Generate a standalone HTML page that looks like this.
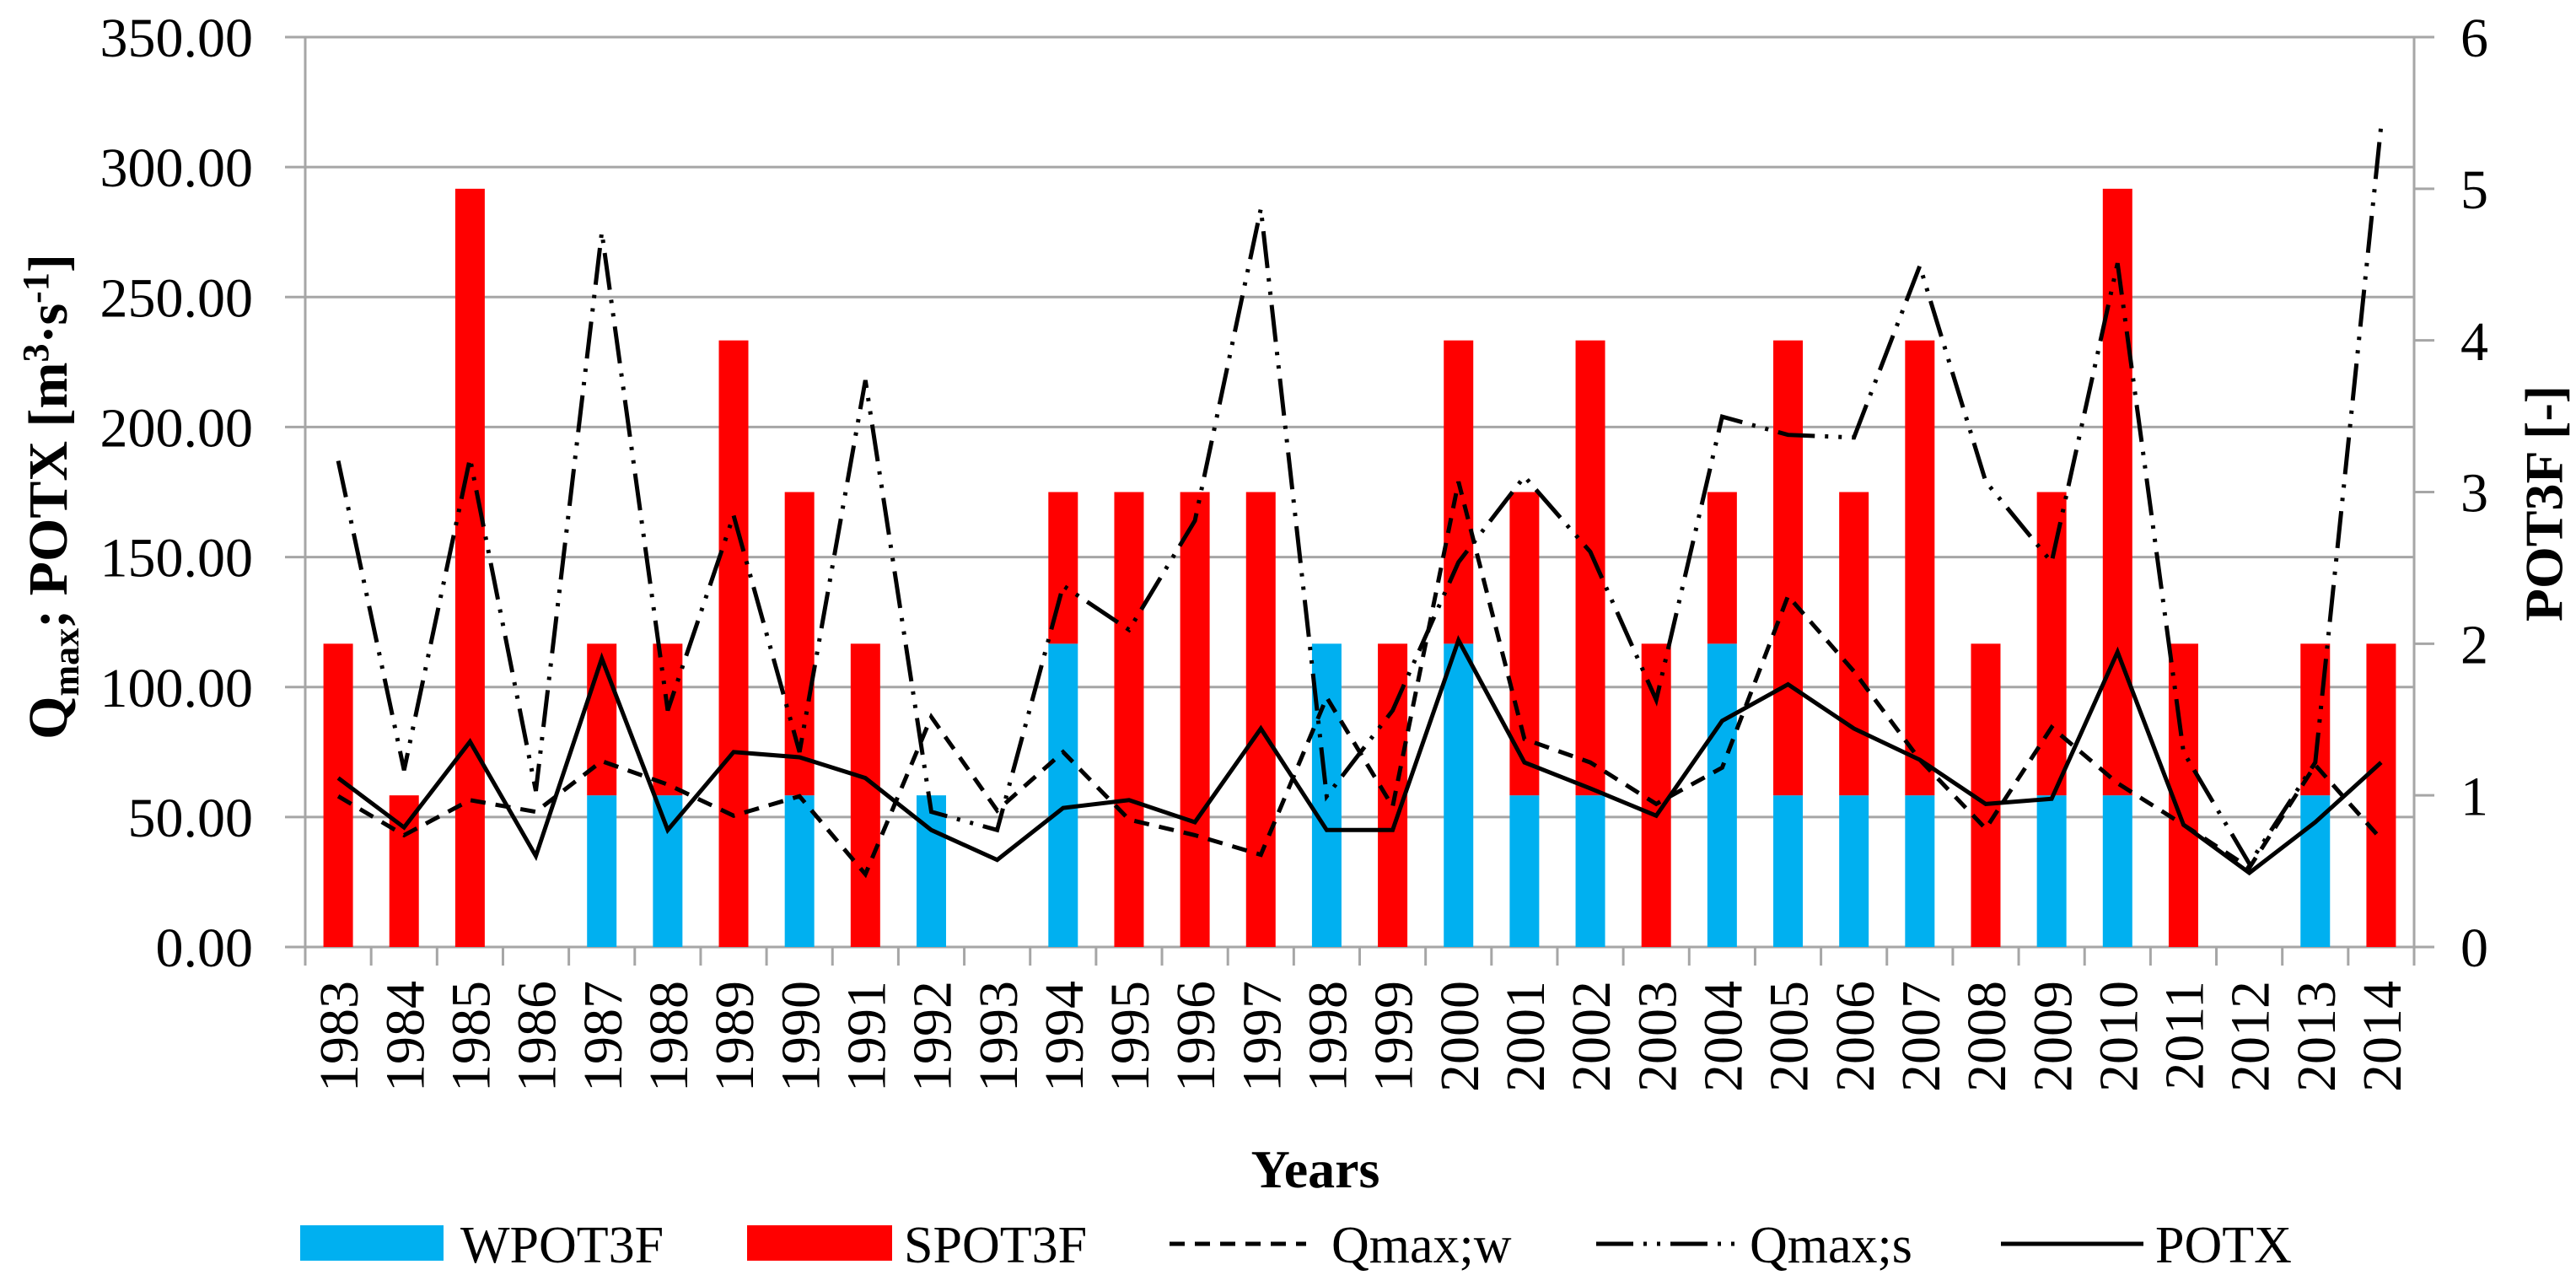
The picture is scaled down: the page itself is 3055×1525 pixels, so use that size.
<!DOCTYPE html>
<html><head><meta charset="utf-8"><style>
html,body{margin:0;padding:0;background:#fff}
svg{display:block}
text{font-family:"Liberation Serif","DejaVu Serif",serif;fill:#000}
</style></head>
<body>
<svg id="chart" width="3055" height="1525" viewBox="0 0 3055 1525" xmlns="http://www.w3.org/2000/svg">
<g id="grid"></g>
<g id="bars"></g>
<g id="lines"></g>
<g id="axes"></g>
<text transform="translate(56,589) rotate(-90)" text-anchor="middle" dy="0.35em" font-size="66" font-weight="bold">Q<tspan font-size="44" dy="14">max</tspan><tspan dy="-14">; POTX [m</tspan><tspan font-size="44" dy="-22">3</tspan><tspan dy="22">·s</tspan><tspan font-size="44" dy="-22">-1</tspan><tspan dy="22">]</tspan></text>
<text transform="translate(3016,597) rotate(-90)" text-anchor="middle" dy="0.35em" font-size="64" font-weight="bold">POT3F [-]</text>
<text x="1560" y="1408" text-anchor="middle" font-size="64" font-weight="bold">Years</text>
<g>
  <rect x="356" y="1453" width="170" height="42" fill="#00B0F0"/>
  <text x="546" y="1497" font-size="62">WPOT3F</text>
  <rect x="886" y="1453" width="172" height="42" fill="#FF0000"/>
  <text x="1072" y="1497" font-size="62">SPOT3F</text>
  <line x1="1387" y1="1475" x2="1549" y2="1475" stroke="#000" stroke-width="5" stroke-dasharray="18 12"/>
  <text x="1579" y="1497" font-size="62">Qmax;w</text>
  <line x1="1893" y1="1475" x2="2065" y2="1475" stroke="#000" stroke-width="5" stroke-dasharray="44 12 4 12 4 12"/>
  <text x="2075" y="1497" font-size="62">Qmax;s</text>
  <line x1="2373" y1="1475" x2="2542" y2="1475" stroke="#000" stroke-width="5"/>
  <text x="2556" y="1497" font-size="62">POTX</text>
</g>
</svg>
<script>
const years = [1983,1984,1985,1986,1987,1988,1989,1990,1991,1992,1993,1994,1995,1996,1997,1998,1999,2000,2001,2002,2003,2004,2005,2006,2007,2008,2009,2010,2011,2012,2013,2014];
const wpot3f = [0,0,0,0,1,1,0,1,0,1,0,2,0,0,0,2,0,2,1,1,0,2,1,1,1,0,1,1,0,0,1,0];
const spot3f = [2,1,5,0,1,1,4,2,2,0,0,1,3,3,3,0,2,2,2,3,2,1,3,2,3,2,2,4,2,0,1,2];
const potx = [65,46,79,35,111,45,75,73,65,45,33.5,53.5,56.5,48,84,45,45,118,71,61,50.5,87,101,84,72,55,57,113.5,47,28.5,48,71];
const qmaxW = [58,43,56.5,52,71.5,62.5,50.5,58,28,88.5,52.5,75,49,43,35.5,96,54,179,80,71,55,69,135,106,72,45.5,84.5,63,47,30.5,70,41.5];
const qmaxS = [187,68,188,60,275,91,166,75,218,52,45,139,122,164,284,58,91,148,181,152,95,204,197,196,262,179,148,263,75,32,71,316];
const leftTicks = ["0.00","50.00","100.00","150.00","200.00","250.00","300.00","350.00"];
const rightTicks = ["0","1","2","3","4","5","6"];

const NS = "http://www.w3.org/2000/svg";
const L = 362, R = 2863, T = 44, B = 1123;
const bw = (R - L) / years.length;
const yL = v => B - v / 350 * (B - T);
const yR = v => B - v / 6 * (B - T);
const xC = i => L + bw * (i + 0.5);
function mk(tag, attrs, parent) {
  const e = document.createElementNS(NS, tag);
  for (const k in attrs) e.setAttribute(k, attrs[k]);
  parent.appendChild(e);
  return e;
}
const grid = document.getElementById('grid');
const axes = document.getElementById('axes');
const bars = document.getElementById('bars');
const lines = document.getElementById('lines');

leftTicks.forEach((t, i) => {
  const v = i * 50, y = yL(v);
  const g = mk('line', {x1: 338, x2: R, y1: y, y2: y, stroke: '#a6a6a6', 'stroke-width': 3}, grid);
  
  
  const tx = mk('text', {x: 300, y: y, dy: '0.35em', 'text-anchor': 'end', 'font-size': 66}, axes);
  tx.textContent = t;
  
  
});
rightTicks.forEach((t, i) => {
  const y = yR(i);
  const tk = mk('line', {x1: R, x2: R + 24, y1: y, y2: y, stroke: '#a6a6a6', 'stroke-width': 3}, axes);
  
  
  const tx = mk('text', {x: 2918, y: y, dy: '0.35em', 'font-size': 66}, axes);
  tx.textContent = t;
  
  
});
const la = mk('line', {x1: L, x2: L, y1: T, y2: B, stroke: '#a6a6a6', 'stroke-width': 3}, axes);


const ra = mk('line', {x1: R, x2: R, y1: T, y2: B, stroke: '#a6a6a6', 'stroke-width': 3}, axes);


for (let i = 0; i <= years.length; i++) {
  const x = L + bw * i;
  const tk = mk('line', {x1: x, x2: x, y1: B, y2: B + 22, stroke: '#a6a6a6', 'stroke-width': 3}, axes);
  
  
}
years.forEach((yr, i) => {
  const tx = mk('text', {transform: `translate(${xC(i)},1163) rotate(-90)`, dy: '0.35em', 'text-anchor': 'end', 'font-size': 66}, axes);
  tx.textContent = yr;
  
  
});

const barW = 35;
years.forEach((yr, i) => {
  const x = xC(i) - barW / 2;
  if (wpot3f[i] > 0) {
    const r = mk('rect', {x: x, y: yR(wpot3f[i]), width: barW, height: yR(0) - yR(wpot3f[i]), fill: '#00B0F0'}, bars);
    
    
  }
  if (spot3f[i] > 0) {
    const top = wpot3f[i] + spot3f[i];
    const r = mk('rect', {x: x, y: yR(top), width: barW, height: yR(wpot3f[i]) - yR(top), fill: '#FF0000'}, bars);
    
    
  }
});

function pts(arr) { return arr.map((v, i) => xC(i).toFixed(1) + ',' + yL(v).toFixed(1)).join(' '); }
const lw = mk('polyline', {points: pts(qmaxW), fill: 'none', stroke: '#000', 'stroke-width': 5, 'stroke-dasharray': '18 12'}, lines);


const ls = mk('polyline', {points: pts(qmaxS), fill: 'none', stroke: '#000', 'stroke-width': 5, 'stroke-dasharray': '44 12 4 12 4 12'}, lines);


const lp = mk('polyline', {points: pts(potx), fill: 'none', stroke: '#000', 'stroke-width': 5, 'stroke-linejoin': 'miter'}, lines);


</script>
</body></html>
